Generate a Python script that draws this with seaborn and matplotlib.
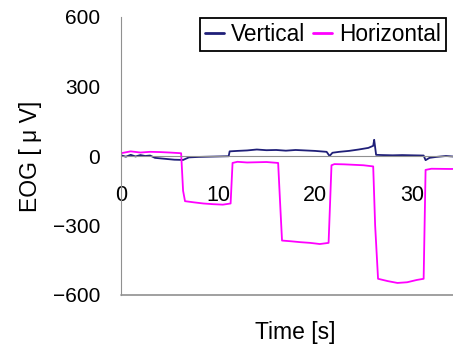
import pandas as pd
import matplotlib
matplotlib.use('Agg')
import matplotlib.pyplot as plt
import seaborn as sns

# Valores (tempo em s, EOG em uV)
t_vert = [0, 0.5, 1, 1.5, 2, 2.5, 3, 3.5, 4.5, 5.5, 6.4, 7, 8, 9, 10, 11.1, 11.2, 12, 13, 14,
          15, 16, 17, 18, 19, 20, 21.2, 21.5, 21.8, 22.5, 23.5, 24.5, 25.5, 26.0, 26.1, 26.3,
          27, 28, 29, 30, 31.2, 31.4, 31.8, 32.5, 33.5, 34.5, 36]
v_vert = [3, -3, 5, -2, 4, 0, 2, -8, -12, -16, -17, -6, -4, -3, -2, -1, 20, 22, 24, 28,
          25, 26, 23, 26, 24, 22, 18, 0, 14, 18, 22, 28, 35, 44, 70, 5,
          4, 3, 4, 3, 2, -18, -8, -4, 0, -3, -2]

t_horiz = [0, 1, 2, 3, 4, 5, 6.2, 6.4, 6.6, 7.5, 8.5, 9.5, 10.5, 11.3, 11.5, 12, 13, 14, 15,
           16.2, 16.4, 16.6, 17.5, 18.5, 19.5, 20.5, 21.4, 21.7, 22, 23, 24, 25, 26, 26.2,
           26.5, 27.5, 28.5, 29.5, 30.5, 31.2, 31.4, 32, 34, 36]
v_horiz = [12, 20, 15, 18, 17, 15, 12, -150, -195, -200, -205, -208, -210, -205, -30, -25, -28, -27, -26,
           -30, -200, -365, -368, -372, -375, -380, -375, -40, -35, -36, -38, -40, -45, -300,
           -530, -540, -548, -545, -535, -530, -60, -55, -56, -55]

y_ticks = [-600, -300, 0, 300, 600]
x_ticks = [0, 10, 20, 30]

df = pd.concat([
    pd.DataFrame({'tempo': t_vert, 'eog': v_vert, 'serie': 'Vertical'}),
    pd.DataFrame({'tempo': t_horiz, 'eog': v_horiz, 'serie': 'Horizontal'}),
])

sns.set_style('white')
plt.rcParams['font.family'] = ['Liberation Sans', 'Noto Sans CJK JP', 'DejaVu Sans']
plt.rcParams['text.color'] = 'black'
plt.rcParams['xtick.labelcolor'] = 'black'
plt.rcParams['ytick.labelcolor'] = 'black'
plt.rcParams['axes.labelcolor'] = 'black'

fig = plt.figure(figsize=(4.53, 3.48), dpi=100)
ax = fig.add_axes([121 / 453, 1 - 295 / 348, 388 / 453, 278 / 348])

sns.lineplot(data=df, x='tempo', y='eog', hue='serie', sort=False, estimator=None,
             palette={'Vertical': '#1f1f78', 'Horizontal': '#ff00ff'},
             linewidth=1.3, ax=ax)

ax.set_xlim(0, 40)
ax.set_ylim(-600, 600)
ax.set_yticks(y_ticks)
ax.set_xticks(x_ticks)
ax.set_yticklabels([str(v).replace('-', '\u2212') for v in y_ticks])

# eixo horizontal cruza em 0
ax.spines['bottom'].set_position(('data', 0))
ax.spines['bottom'].set_color('#909090')
ax.spines['left'].set_color('#909090')
ax.spines['top'].set_visible(False)
ax.spines['right'].set_visible(False)
ax.axhline(-600, color='#909090', lw=1.2, clip_on=False, zorder=0)

ax.tick_params(axis='y', direction='in', length=5, color='#909090', labelsize=15, pad=15)
ax.tick_params(axis='x', length=0, labelsize=15.5, pad=21)

ax.set_xlabel('')
ax.set_ylabel('EOG [ μ V]', fontsize=16.5, labelpad=8)
fig.text(295 / 453, 1 - 333 / 348, 'Time [s]', fontsize=16.5, ha='center', va='center')

leg = ax.legend(loc='upper left', bbox_to_anchor=(200 / 453, 1 - 18 / 348),
                bbox_transform=fig.transFigure, ncol=2, fontsize=16.3, frameon=True,
                fancybox=False, framealpha=1, edgecolor='black', handlelength=0.85,
                handletextpad=0.3, columnspacing=0.35, borderpad=0.22, borderaxespad=0)
leg.get_frame().set_linewidth(1.3)
for line in leg.get_lines():
    line.set_linewidth(2)

fig.savefig('out.png', dpi=100)
